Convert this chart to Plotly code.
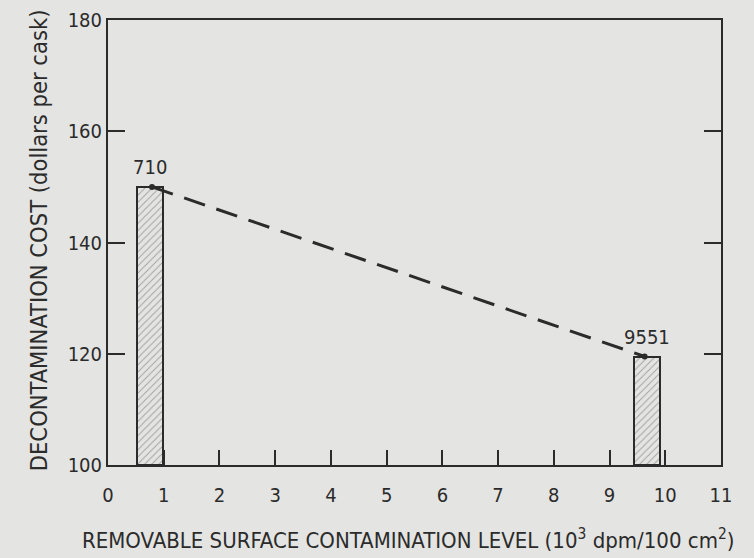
import plotly.graph_objects as go

# readings
bar_x = [0.755, 9.67]          # bar centres (10^3 dpm/100 cm^2)
bar_cost = [150, 119.5]        # decontamination cost, dollars per cask
bar_labels = ['710', '9551']
line_x = [0.79, 9.63]
line_cost = [150, 119.5]
x_ticks = list(range(0, 12))
y_ticks = [100, 120, 140, 160, 180]

ink = '#2b2b2b'
paper = '#e4e4e2'
font = 'Liberation Sans Narrow, Arial Narrow, DejaVu Sans Condensed, sans-serif'

fig = go.Figure()

fig.add_trace(go.Bar(
    x=bar_x,
    y=[c - 100 for c in bar_cost],
    base=100,
    width=0.47,
    marker=dict(
        color='rgba(0,0,0,0)',
        line=dict(color=ink, width=2),
        pattern=dict(shape='/', fgcolor='#5a5a5a', bgcolor=paper, size=5, solidity=0.18),
    ),
    showlegend=False,
    hoverinfo='skip',
))

fig.add_trace(go.Scatter(
    x=line_x,
    y=line_cost,
    mode='lines+markers',
    line=dict(color=ink, width=3, dash='22px,12px'),
    marker=dict(color=ink, size=6),
    showlegend=False,
))

for x, c, lab in zip(bar_x, bar_cost, bar_labels):
    fig.add_annotation(
        x=x, y=c, text=lab, showarrow=False,
        yanchor='bottom', yshift=6,
        font=dict(family=font, size=20, color=ink),
    )

# axis titles placed by hand to sit where they do in the scan
fig.add_annotation(
    x=0, y=0.505, xref='paper', yref='paper',
    xanchor='center', yanchor='middle', xshift=-69,
    text='DECONTAMINATION COST (dollars per cask)',
    textangle=-90, showarrow=False,
    font=dict(family=font, size=23.5, color=ink),
)
fig.add_annotation(
    x=0.5, y=0, xref='paper', yref='paper',
    xanchor='center', yanchor='middle', xshift=-7, yshift=-74,
    text='REMOVABLE SURFACE CONTAMINATION LEVEL (10<sup>3</sup> dpm/100 cm<sup>2</sup>)',
    showarrow=False,
    font=dict(family=font, size=22, color=ink),
)

fig.update_xaxes(
    range=[0, 11],
    tickvals=x_ticks,
    ticks='inside',
    ticklen=15,
    tickwidth=1.5,
    tickcolor=ink,
    showline=True,
    linecolor=ink,
    linewidth=2,
    mirror=True,
    showgrid=False,
    zeroline=False,
    automargin=False,
    ticklabelstandoff=11,
    tickfont=dict(family=font, size=20, color=ink),
)
fig.update_yaxes(
    range=[100, 180],
    tickvals=y_ticks,
    ticks='inside',
    ticklen=17,
    tickwidth=1.5,
    tickcolor=ink,
    showline=True,
    linecolor=ink,
    linewidth=2,
    mirror='ticks',
    showgrid=False,
    zeroline=False,
    automargin=False,
    tickfont=dict(family=font, size=20, color=ink),
)

fig.update_layout(
    width=754,
    height=558,
    margin=dict(l=108, r=33, t=20, b=93),
    paper_bgcolor=paper,
    plot_bgcolor=paper,
    bargap=0,
)

fig.write_html('out.html', config={'displayModeBar': False},
               post_script="document.body.style.margin='0';")
